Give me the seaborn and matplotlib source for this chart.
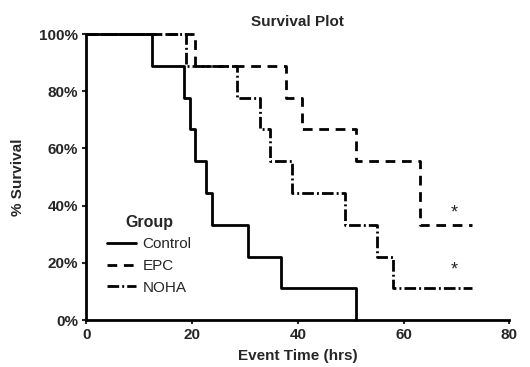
import pandas as pd
import matplotlib.pyplot as plt
import seaborn as sns

# Kaplan-Meier style step data (hrs, % survival)
control_time = [0, 12.4, 18.5, 19.6, 20.6, 22.6, 23.7, 30.6, 36.9, 51.0]
control_surv = [100, 88.9, 77.8, 66.7, 55.6, 44.4, 33.3, 22.2, 11.1, 0]

epc_time = [0, 20.5, 37.7, 40.7, 51.0, 63.1, 72.9]
epc_surv = [100, 88.9, 77.8, 66.7, 55.6, 33.3, 33.3]

noha_time = [0, 18.9, 28.4, 32.8, 34.7, 38.8, 48.9, 54.9, 58.0, 72.9]
noha_surv = [100, 88.9, 77.8, 66.7, 55.6, 44.4, 33.3, 22.2, 11.1, 11.1]

groups = ["Control", "EPC", "NOHA"]

df = pd.concat([
    pd.DataFrame({"time": control_time, "surv": control_surv, "Group": "Control"}),
    pd.DataFrame({"time": epc_time, "surv": epc_surv, "Group": "EPC"}),
    pd.DataFrame({"time": noha_time, "surv": noha_surv, "Group": "NOHA"}),
])

sns.set_style("white")
plt.rcParams["font.family"] = ["Liberation Sans", "DejaVu Sans"]
plt.rcParams["font.weight"] = "bold"

fig = plt.figure(figsize=(5.3, 3.67), dpi=100)
ax = fig.add_axes([0.163, 0.128, 0.798, 0.779])

sns.lineplot(data=df, x="time", y="surv", hue="Group", style="Group",
             hue_order=groups, style_order=groups,
             palette={g: "black" for g in groups},
             dashes={"Control": "", "EPC": (3.5, 2.4), "NOHA": (4.2, 1.1, 0.7, 1.1)},
             drawstyle="steps-post", estimator=None, sort=False,
             linewidth=2, ax=ax, clip_on=False)

# significance markers
ax.text(69.5, 37.5, "*", ha="center", va="center", fontsize=13, fontweight="normal")
ax.text(69.5, 17.5, "*", ha="center", va="center", fontsize=13, fontweight="normal")

ax.set_xlim(0, 80)
ax.set_ylim(0, 100)
ax.set_xticks([0, 20, 40, 60, 80])
ax.set_yticks([0, 20, 40, 60, 80, 100])
ax.set_yticklabels([f"{v}%" for v in [0, 20, 40, 60, 80, 100]])
ax.tick_params(axis="both", labelsize=11, length=3, width=1.5, direction="out",
               left=True, bottom=True, pad=3)
for lab in ax.get_xticklabels() + ax.get_yticklabels():
    lab.set_fontweight("bold")

sns.despine(ax=ax)
for s in ["left", "bottom"]:
    ax.spines[s].set_linewidth(2)
    ax.spines[s].set_color("black")

ax.set_title("Survival Plot", fontsize=11, fontweight="bold", pad=6)
ax.set_xlabel("Event Time (hrs)", fontsize=11, fontweight="bold", labelpad=5)
ax.set_ylabel("% Survival", fontsize=11, fontweight="bold", labelpad=10)

leg = ax.legend(title="Group", loc="upper left", bbox_to_anchor=(0.035, 0.39),
                frameon=False, fontsize=11, title_fontsize=11.5,
                handlelength=1.85, handletextpad=0.45, labelspacing=0.5,
                borderaxespad=0)
for t in leg.get_texts():
    t.set_fontweight("normal")
leg.get_title().set_fontweight("bold")

fig.savefig("out.png", dpi=100)
